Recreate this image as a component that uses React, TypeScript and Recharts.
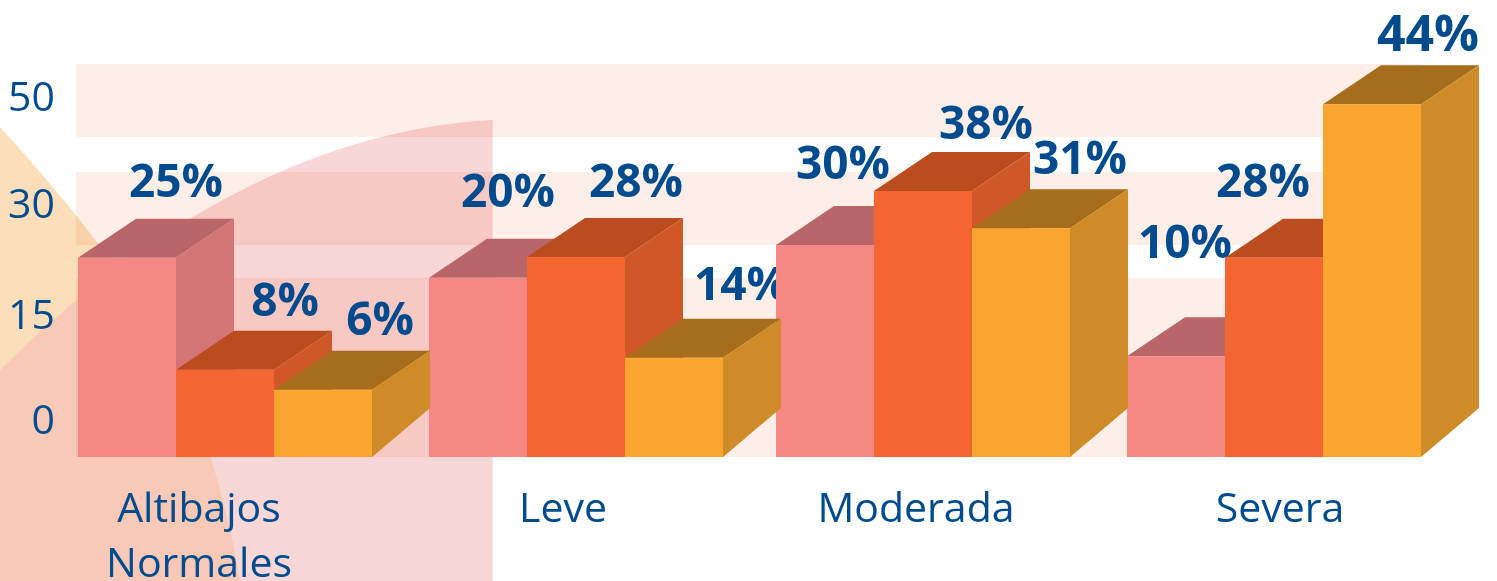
import React from "react";
import { ComposedChart, Bar, Line, XAxis, YAxis, ReferenceArea } from "recharts";

const categories = ["Altibajos Normales", "Leve", "Moderada", "Severa"];
// Heights as drawn in the picture (they do not follow the printed percentages linearly)
const pinkValues = [24.9, 22.4, 26.5, 12.6];
const orangeValues = [10.9, 25, 33.25, 24.9];
const yellowValues = [8.4, 12.4, 28.6, 44.1];
const pinkLabels = ["25%", "20%", "30%", "10%"];
const orangeLabels = ["8%", "28%", "38%", "28%"];
const yellowLabels = ["6%", "14%", "31%", "44%"];
const tickValues = [4.75, 17.9, 31.75, 45.1];
const tickLabels = ["0", "15", "30", "50"];
const bands: [number, number][] = [[40, 49.125], [26.5, 35.625], [0, 22.375]];

const data = categories.map((name, i) => ({
  name,
  pink: pinkValues[i],
  orange: orangeValues[i],
  yellow: yellowValues[i],
}));

const BLUE = "#004B8D";
const FONT = "'Open Sans', sans-serif";
const DEPTH_X = 58;
const DEPTH_TOP = 39;
const DEPTH_BOTTOM = 49;
const GROUP_NUDGE = [0, 1, -2, -1];
const TICK_NUDGE = [-26, -12, -9, 5];
const Y_DOMAIN: [number, number] = [0, 49.125];

const makeBar = (front: string, top: string, side: string) => (p: any) => {
  const x = p.x + GROUP_NUDGE[p.index];
  const { y, width: w, height: h } = p;
  return (
    <g>
      <polygon points={`${x},${y} ${x + DEPTH_X},${y - DEPTH_TOP} ${x + w + DEPTH_X},${y - DEPTH_TOP} ${x + w},${y}`} fill={top} />
      <polygon points={`${x + w},${y} ${x + w + DEPTH_X},${y - DEPTH_TOP} ${x + w + DEPTH_X},${y + h - DEPTH_BOTTOM} ${x + w},${y + h}`} fill={side} />
      <rect x={x} y={y} width={w} height={h} fill={front} />
    </g>
  );
};

const makeLabel = (texts: string[], dx: number[], dy: number[], sizes: number[]) => (p: any) => (
  <text
    key={p.index}
    x={p.x + dx[p.index]}
    y={p.y + dy[p.index]}
    textAnchor="middle"
    fontFamily={FONT}
    fontWeight={700}
    fontSize={sizes[p.index]}
    fill={BLUE}
  >
    {texts[p.index]}
  </text>
);

const BandShape = (p: any) => (
  <rect x={p.x + 26} y={p.y} width={p.width - 55} height={p.height} fill="#FDEEE8" style={{ mixBlendMode: "multiply" }} />
);

const YTick = (p: any) => (
  <text x={p.x + 5} y={p.y + 15} textAnchor="end" fontFamily={FONT} fontSize={41} fill={BLUE}>
    {tickLabels[tickValues.indexOf(p.payload.value)]}
  </text>
);

const XTick = (p: any) => (
  <text textAnchor="middle" fontFamily={FONT} fontSize={41} fill={BLUE}>
    {String(p.payload.value)
      .split(" ")
      .map((line: string, i: number) => (
        <tspan key={line} x={p.x + TICK_NUDGE[p.index]} y={p.y + 65 + i * 55}>
          {line}
        </tspan>
      ))}
  </text>
);

const layerStyle: React.CSSProperties = { position: "absolute", left: 0, top: 0 };

export default function App() {
  return (
    <div style={{ position: "fixed", left: 0, top: 0, width: 1497, height: 581, overflow: "hidden", background: "#fff" }}>
      <svg width={1497} height={581} style={layerStyle}>
        <path d="M0 127 C120 260 205 370 240 581 L0 581 Z" fill="#FCDFBA" />
        <path d="M0 370 C130 240 300 130 492.7 120 L492.7 581 L0 581 Z" fill="rgb(246,182,182)" fillOpacity={0.55} />
      </svg>
      {/* Lower layer: bands, axes, percentage labels (the bars overlap the labels in the reference) */}
      <div style={layerStyle}>
        <ComposedChart width={1497} height={581} data={data} margin={{ top: 64, right: 47, bottom: 0, left: 0 }}>
          <XAxis dataKey="name" scale="band" height={124} interval={0} axisLine={false} tickLine={false} tickSize={0} tickMargin={0} tick={XTick} />
          <YAxis width={50} domain={Y_DOMAIN} ticks={tickValues} axisLine={false} tickLine={false} tickSize={0} tickMargin={0} tick={YTick} />
          {bands.map(([y1, y2]) => (
            <ReferenceArea key={y1} y1={y1} y2={y2} ifOverflow="visible" shape={BandShape} />
          ))}
          <Line dataKey="pink" stroke="none" dot={false} isAnimationActive={false} label={makeLabel(pinkLabels, [-49, -67, -82, -90], [-61, -71, -66, -98], [46, 46, 46, 46])} />
          <Line dataKey="orange" stroke="none" dot={false} isAnimationActive={false} label={makeLabel(orangeLabels, [60, 61, 61, -12], [-54, -60, -52, -61], [46, 46, 46, 46])} />
          <Line dataKey="yellow" stroke="none" dot={false} isAnimationActive={false} label={makeLabel(yellowLabels, [155, 166, 155, 153], [-55, -58, -54, -53], [46, 46, 46, 50])} />
        </ComposedChart>
      </div>
      {/* Upper layer: the 3D bars */}
      <div style={layerStyle}>
        <ComposedChart
          width={1497}
          height={581}
          data={data}
          margin={{ top: 64, right: 47, bottom: 124, left: 50 }}
          barSize={98}
          barGap={0}
          barCategoryGap={56}
        >
          <XAxis dataKey="name" hide />
          <YAxis hide domain={Y_DOMAIN} />
          <Bar dataKey="pink" isAnimationActive={false} shape={makeBar("#F58885", "#B86667", "#D47676")} />
          <Bar dataKey="orange" isAnimationActive={false} shape={makeBar("#F36531", "#BB4C20", "#D05727")} />
          <Bar dataKey="yellow" isAnimationActive={false} shape={makeBar("#FAA530", "#A56D1C", "#CE8B27")} />
        </ComposedChart>
      </div>
    </div>
  );
}
